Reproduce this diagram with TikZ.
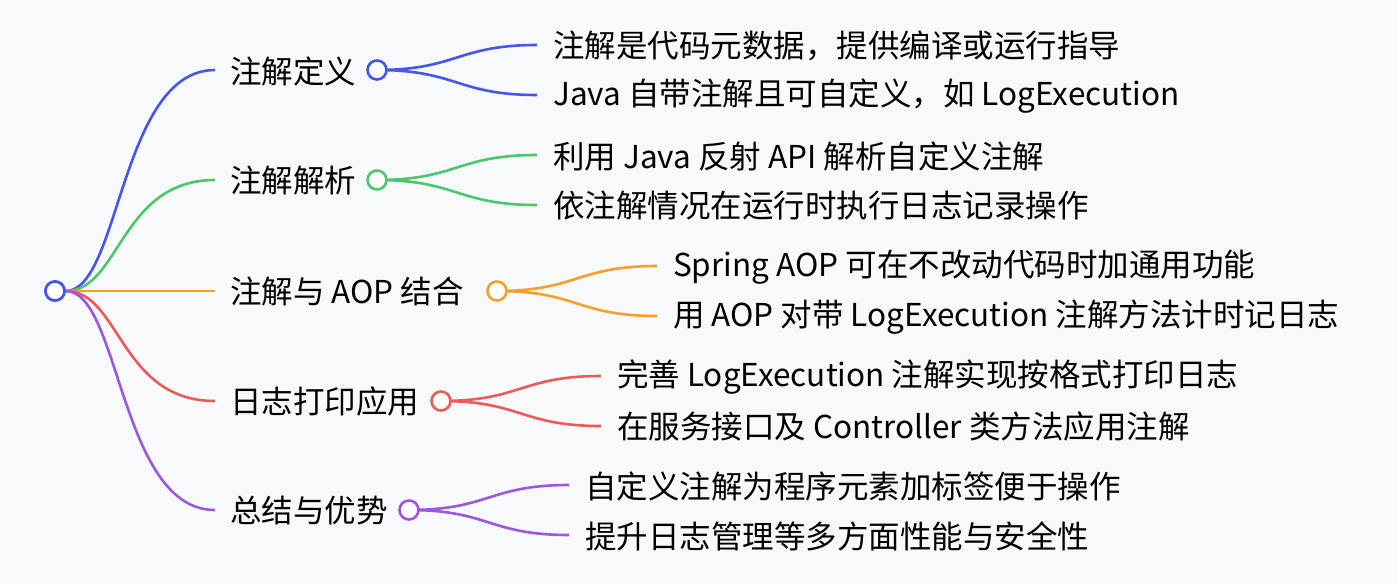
\documentclass[tikz,border=0pt]{standalone}
\usepackage{fontspec}
\setmainfont{Noto Sans CJK SC}
\definecolor{bg}{HTML}{F8F9FB}
\definecolor{cb}{HTML}{4556EE}
\definecolor{cg}{HTML}{4CC76C}
\definecolor{co}{HTML}{F5A02C}
\definecolor{cr}{HTML}{EC5A5A}
\definecolor{cp}{HTML}{9B57DD}
\tikzset{
 ln/.style={line width=2.6pt},
 dot/.style={circle,draw,fill=white,line width=2.6pt,minimum size=19pt,inner sep=0pt},
 lab/.style={anchor=west,inner sep=0pt,font=\fontsize{31.5}{33}\selectfont},
}
\begin{document}
\begin{tikzpicture}[x=1pt,y=-1pt]
\useasboundingbox[fill=bg] (0,0) rectangle (1397,584);
\node[dot,draw=cb] (root) at (55,291) {};
\foreach \n/\c/\y/\cx/\ta/\tb/\lab in {
 a/cb/70/377/注解是代码元数据，提供编译或运行指导/Java 自带注解且可自定义，如 LogExecution/注解定义,
 b/cg/180/377/利用 Java 反射 API 解析自定义注解/依注解情况在运行时执行日志记录操作/注解解析,
 c/co/291/497/Spring AOP 可在不改动代码时加通用功能/用 AOP 对带 LogExecution 注解方法计时记日志/注解与 AOP 结合,
 d/cr/401/441/完善 LogExecution 注解实现按格式打印日志/在服务接口及 Controller 类方法应用注解/日志打印应用,
 e/cp/510/409/自定义注解为程序元素加标签便于操作/提升日志管理等多方面性能与安全性/总结与优势}{
 \coordinate (\n s) at (215,\y);
 \draw[ln,draw=\c] (root) .. controls (120,291) and (120,\y) .. (\n s);
 \node[lab] (\n l) at (230,\y+1) {\lab};
 \coordinate (\n1) at (\cx+160,\y-25);
 \coordinate (\n2) at (\cx+160,\y+25);
 \draw[ln,draw=\c] (\cx,\y) .. controls (\cx+80,\y) and (\cx+80,\y-25) .. (\n1);
 \draw[ln,draw=\c] (\cx,\y) .. controls (\cx+80,\y) and (\cx+80,\y+25) .. (\n2);
 \node[dot,draw=\c] (\n c) at (\cx,\y) {};
 \node[lab] (\n t1) at (\cx+176,\y-24) {\ta};
 \node[lab] (\n t2) at (\cx+176,\y+26) {\tb};
}
\node[dot,draw=cb] at (root) {};
\end{tikzpicture}
\end{document}
